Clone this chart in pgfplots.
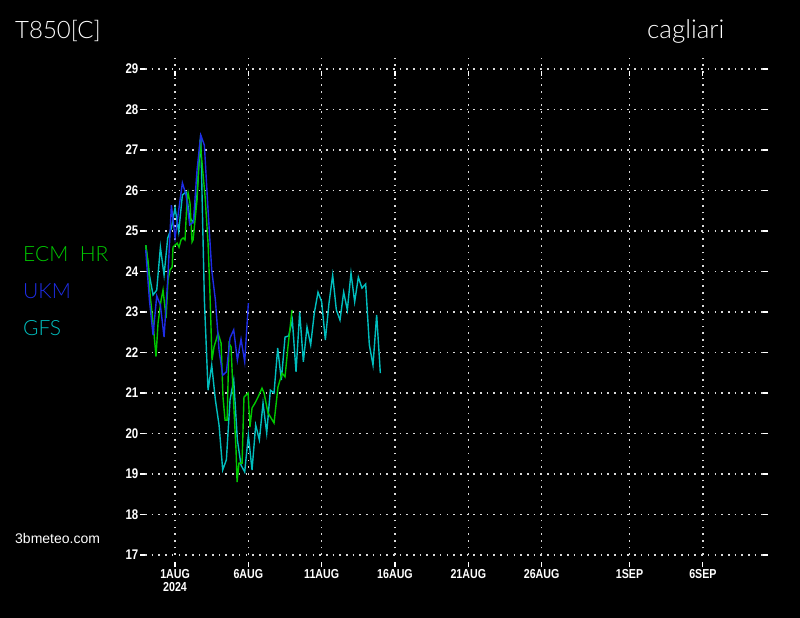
\documentclass[border=0pt]{standalone}
\usepackage{fontspec}
\setmainfont{Liberation Sans}
\newfontfamily\narrowfont{Liberation Sans}[FakeStretch=0.82]
\newfontfamily\thinfont{Lato}[UprightFont=* Light]
\usepackage{pgfplots}
\pgfplotsset{compat=1.18}
\definecolor{ecm}{RGB}{0,200,0}
\definecolor{ukm}{RGB}{30,45,230}
\definecolor{gfs}{RGB}{0,190,190}

\pgfplotstableread{
day temp
-2.00 24.65
-1.75 23.91
-1.50 23.42
-1.25 23.54
-1.00 24.60
-0.75 23.91
-0.50 24.83
-0.25 25.07
0.00 25.57
0.25 24.98
0.50 25.89
0.75 25.96
1.00 25.32
1.25 25.22
1.50 25.89
1.75 27.37
2.00 23.30
2.25 21.07
2.50 21.69
2.75 20.83
3.00 20.21
3.25 19.10
3.50 19.35
3.75 20.83
4.00 21.32
4.25 19.84
4.50 19.22
4.75 19.05
5.00 19.96
5.25 19.10
5.50 20.21
5.75 19.84
6.00 20.75
6.25 20.01
6.50 21.07
6.75 21.00
7.00 22.11
7.25 21.32
7.50 22.38
7.75 22.41
8.00 22.80
8.25 21.52
8.50 23.00
8.75 21.77
9.00 22.63
9.25 22.19
9.50 22.98
9.75 23.49
10.00 23.25
10.25 22.31
10.50 23.22
10.75 23.91
11.00 23.05
11.25 22.80
11.50 23.49
11.75 23.05
12.00 23.96
12.25 23.25
12.50 23.86
12.75 23.59
13.00 23.69
13.25 22.19
13.50 21.69
13.75 22.93
14.00 21.49
}\gfsdata

\pgfplotstableread{
day temp
-2.00 24.53
-1.75 23.30
-1.50 22.43
-1.25 23.40
-1.00 23.17
-0.75 22.38
-0.50 23.79
-0.25 25.64
0.00 24.83
0.25 25.52
0.50 26.19
0.75 25.89
1.00 25.15
1.25 25.22
1.50 26.51
1.75 27.37
2.00 27.12
2.25 25.52
2.50 24.04
2.75 23.30
3.00 22.06
3.25 21.44
3.50 21.52
3.75 22.36
4.00 22.56
4.25 21.81
4.50 22.33
4.75 21.77
5.00 23.22
}\ukmdata

\pgfplotstableread{
day temp
-2.00 24.65
-1.83 24.21
-1.70 23.42
-1.50 22.73
-1.30 21.90
-1.16 22.73
-0.95 23.30
-0.82 23.54
-0.61 22.85
-0.48 23.79
-0.34 24.04
-0.20 24.11
-0.14 24.60
0.14 24.70
0.27 24.60
0.41 24.78
0.55 24.83
0.68 24.78
0.82 25.77
0.89 25.94
1.02 25.69
1.16 24.73
1.23 24.78
1.50 25.77
1.70 27.25
1.84 26.68
2.05 25.84
2.25 24.70
2.39 23.37
2.52 21.81
2.66 22.14
2.80 22.31
2.93 22.48
3.14 22.23
3.27 20.90
3.41 20.33
3.55 20.33
3.68 22.23
3.82 22.14
3.95 21.07
4.16 19.59
4.23 18.80
4.36 19.27
4.57 19.27
4.70 20.90
4.98 21.00
5.11 20.16
5.25 20.63
5.45 20.75
5.66 20.90
5.93 21.12
6.07 21.00
6.34 20.51
6.75 20.26
7.02 21.15
7.30 21.49
7.50 21.40
7.70 22.14
7.98 23.05
}\ecmdata

\begin{document}
\begin{tikzpicture}[x=1pt,y=1pt]
\fill[black] (0,0) rectangle (800,618);
% vertical grid lines, reaching a little above the top row
\begin{axis}[
  at={(145pt,63pt)}, anchor=south west,
  scale only axis, width=618pt, height=497pt,
  xmin=-2.05, xmax=40.1, ymin=17, ymax=29.2716,
  axis line style={draw=none},
  xtick={0,5,10,15,20,25,31,36}, xticklabels={},
  ytick=\empty,
  xmajorgrids,
  major tick length=0pt,
  major grid style={white!85!black, line width=1.6pt, dash pattern=on 1.6pt off 5.1pt},
]
\end{axis}
\begin{axis}[
  at={(145pt,63pt)}, anchor=south west,
  scale only axis, width=618pt, height=486pt,
  xmin=-2.05, xmax=40.1, ymin=17, ymax=29,
  axis line style={draw=none},
  xtick={0,5,10,15,20,25,31,36},
  xticklabels={{1AUG\\[1pt]2024},6AUG,11AUG,16AUG,21AUG,26AUG,1SEP,6SEP},
  xticklabel style={align=center, font=\narrowfont\bfseries\fontsize{13}{12}\selectfont, text=white, inner sep=0pt, yshift=-9pt},
  ytick={17,18,...,29},
  yticklabel style={font=\narrowfont\bfseries\fontsize{14}{14}\selectfont, text=white, inner sep=1.5pt},
  /pgf/number format/assume math mode=true,
  ymajorgrids,
  major grid style={white!85!black, line width=1.6pt, dash pattern=on 1.6pt off 5.1pt},
  tick style={white, line width=1.2pt},
  xtick style={yshift=-7pt},
  tick align=outside,
  major tick length=5pt,
  clip=false,
]
\addplot[gfs, line width=1.4pt] table[x=day,y=temp] {\gfsdata};
\addplot[ecm, line width=1.4pt] table[x=day,y=temp] {\ecmdata};
\addplot[ukm, line width=1.4pt] table[x=day,y=temp] {\ukmdata};
\end{axis}
\node[anchor=west, text=white, inner sep=0pt, font=\thinfont\fontsize{24}{24}\selectfont] at (15,587) {T850[C]};
\node[anchor=west, text=white, inner sep=0pt, font=\thinfont\fontsize{26}{26}\selectfont] at (647,587) {cagliari};
\node[anchor=west, text=ecm, inner sep=0pt, font=\thinfont\fontsize{21}{21}\selectfont] at (23,364) {ECM\hspace{0.55em}HR};
\node[anchor=west, text=ukm, inner sep=0pt, font=\thinfont\fontsize{21}{21}\selectfont] at (23,327) {UKM};
\node[anchor=west, text=gfs, inner sep=0pt, font=\thinfont\fontsize{21}{21}\selectfont] at (23,290) {GFS};
\node[anchor=west, text=white, inner sep=0pt, font=\fontsize{14}{14}\selectfont] at (15,80) {3bmeteo.com};
\end{tikzpicture}
\end{document}
